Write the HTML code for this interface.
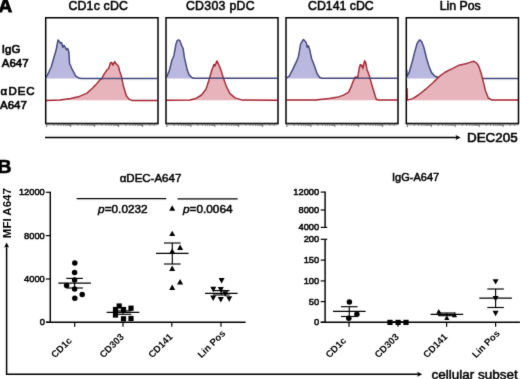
<!DOCTYPE html>
<html><head><meta charset="utf-8"><style>
html,body{margin:0;padding:0;background:#fff;}
body{width:520px;height:379px;overflow:hidden;position:relative;font-family:"Liberation Sans", sans-serif;}
</style></head><body>
<svg width="520" height="379" viewBox="0 0 520 379" style="position:absolute;left:0;top:0">
<defs><filter id="bl" filterUnits="userSpaceOnUse" x="-2" y="-2" width="524" height="383"><feConvolveMatrix order="3" kernelMatrix="0.01 0.08 0.01 0.08 0.64 0.08 0.01 0.08 0.01" divisor="1" preserveAlpha="false"/></filter></defs>
<rect x="0" y="0" width="520" height="379" fill="#fff"/>
<g filter="url(#bl)">
<g font-family='"Liberation Sans", sans-serif' fill="#000">
<text x="-1.5" y="12.4" font-size="19" font-weight="bold" text-anchor="start" stroke="#000" stroke-width="0.8" >A</text>
<text x="-2.2" y="173.2" font-size="19" font-weight="bold" text-anchor="start" stroke="#000" stroke-width="0.6" >B</text>
<text x="98.3" y="9.5" font-size="12.3" font-weight="normal" text-anchor="middle" stroke="#000" stroke-width="0.55" letter-spacing="0.2">CD1c cDC</text>
<text x="220.4" y="9.5" font-size="12.3" font-weight="normal" text-anchor="middle" stroke="#000" stroke-width="0.55" letter-spacing="0.3">CD303 pDC</text>
<text x="340.9" y="9.5" font-size="12.3" font-weight="normal" text-anchor="middle" stroke="#000" stroke-width="0.55" >CD141 cDC</text>
<text x="460.2" y="9.5" font-size="12.3" font-weight="normal" text-anchor="middle" stroke="#000" stroke-width="0.55" >Lin Pos</text>
<text x="1.8" y="52.7" font-size="11.5" font-weight="normal" text-anchor="start" stroke="#000" stroke-width="0.65" >IgG</text>
<text x="1.8" y="67.3" font-size="11.5" font-weight="normal" text-anchor="start" stroke="#000" stroke-width="0.65" >A647</text>
<text x="0.4" y="94.6" font-size="11.5" font-weight="normal" text-anchor="start" stroke="#000" stroke-width="0.65" >&#945;<tspan x="8.6" letter-spacing="0.9">DEC</tspan></text>
<text x="0.0" y="108.5" font-size="11.5" font-weight="normal" text-anchor="start" stroke="#000" stroke-width="0.65" >A647</text>
</g>
<polygon points="46.0,100.3 46.0,100.4 60.1,100.1 70.9,98.5 79.5,96.4 87.1,93.1 92.4,88.3 95.8,84.9 100.0,79.7 101.6,79.0 103.8,74.7 106.7,70.3 108.9,68.2 110.3,63.1 111.5,62.3 112.9,65.2 114.7,61.6 116.1,63.8 118.3,66.0 119.8,71.8 121.2,75.4 123.4,86.3 126.3,95.7 129.2,99.4 132.1,100.4 157.5,100.4 157.5,100.3" fill="#e7b4bb" stroke="none"/>
<polyline points="46.0,100.4 60.1,100.1 70.9,98.5 79.5,96.4 87.1,93.1 92.4,88.3 95.8,84.9 100.0,79.7 101.6,79.0 103.8,74.7 106.7,70.3 108.9,68.2 110.3,63.1 111.5,62.3 112.9,65.2 114.7,61.6 116.1,63.8 118.3,66.0 119.8,71.8 121.2,75.4 123.4,86.3 126.3,95.7 129.2,99.4 132.1,100.4 157.5,100.4" fill="none" stroke="#a2232f" stroke-width="1.5" stroke-linejoin="round"/>
<polygon points="46.0,78.6 46.0,77.5 47.6,74.7 51.3,66.8 53.7,58.3 56.2,49.8 58.0,40.1 59.2,41.3 60.4,43.1 61.6,42.7 62.8,47.4 64.0,45.5 65.3,47.4 66.5,49.8 67.7,48.6 68.9,52.2 69.5,63.2 72.0,69.2 75.6,75.9 79.2,78.3 82.0,78.6 157.5,78.6 157.5,78.6" fill="#bab8de" stroke="none"/>
<polyline points="46.0,77.5 47.6,74.7 51.3,66.8 53.7,58.3 56.2,49.8 58.0,40.1 59.2,41.3 60.4,43.1 61.6,42.7 62.8,47.4 64.0,45.5 65.3,47.4 66.5,49.8 67.7,48.6 68.9,52.2 69.5,63.2 72.0,69.2 75.6,75.9 79.2,78.3 82.0,78.6 157.5,78.6" fill="none" stroke="#40447a" stroke-width="1.5" stroke-linejoin="round"/>
<polygon points="166.5,100.3 166.5,100.3 190.0,100.1 195.8,98.6 201.6,95.0 206.0,89.2 208.9,80.5 211.8,70.3 214.0,64.5 215.0,66.0 216.9,60.9 218.3,63.8 220.5,68.9 223.4,78.3 226.3,86.3 229.9,93.6 235.0,97.9 242.3,100.1 277.5,100.3 277.5,100.3" fill="#e7b4bb" stroke="none"/>
<polyline points="166.5,100.3 190.0,100.1 195.8,98.6 201.6,95.0 206.0,89.2 208.9,80.5 211.8,70.3 214.0,64.5 215.0,66.0 216.9,60.9 218.3,63.8 220.5,68.9 223.4,78.3 226.3,86.3 229.9,93.6 235.0,97.9 242.3,100.1 277.5,100.3" fill="none" stroke="#a2232f" stroke-width="1.5" stroke-linejoin="round"/>
<polygon points="166.5,78.6 166.5,77.5 169.3,70.9 171.9,60.3 173.9,55.7 175.9,44.5 177.2,40.6 178.5,39.9 179.8,40.6 180.5,42.5 181.8,45.8 183.1,48.5 184.4,57.7 185.8,63.6 187.1,69.6 189.1,74.9 191.7,77.5 194.0,78.3 277.5,78.3 277.5,78.6" fill="#bab8de" stroke="none"/>
<polyline points="166.5,77.5 169.3,70.9 171.9,60.3 173.9,55.7 175.9,44.5 177.2,40.6 178.5,39.9 179.8,40.6 180.5,42.5 181.8,45.8 183.1,48.5 184.4,57.7 185.8,63.6 187.1,69.6 189.1,74.9 191.7,77.5 194.0,78.3 277.5,78.3" fill="none" stroke="#40447a" stroke-width="1.5" stroke-linejoin="round"/>
<polygon points="286.5,100.3 286.5,100.0 316.0,100.0 320.0,99.4 329.2,98.5 338.5,96.9 343.1,95.4 348.5,92.3 350.8,87.7 353.1,81.5 355.4,76.9 357.7,77.7 359.2,68.5 360.3,64.6 361.8,65.4 362.8,68.5 364.6,60.8 365.8,63.1 366.9,69.2 369.2,75.4 371.5,83.8 373.8,91.5 376.2,99.2 378.5,100.0 397.5,100.0 397.5,100.3" fill="#e7b4bb" stroke="none"/>
<polyline points="286.5,100.0 316.0,100.0 320.0,99.4 329.2,98.5 338.5,96.9 343.1,95.4 348.5,92.3 350.8,87.7 353.1,81.5 355.4,76.9 357.7,77.7 359.2,68.5 360.3,64.6 361.8,65.4 362.8,68.5 364.6,60.8 365.8,63.1 366.9,69.2 369.2,75.4 371.5,83.8 373.8,91.5 376.2,99.2 378.5,100.0 397.5,100.0" fill="none" stroke="#a2232f" stroke-width="1.5" stroke-linejoin="round"/>
<polygon points="286.5,78.6 286.5,78.2 289.3,76.2 293.2,68.3 296.5,61.7 298.5,56.4 300.5,44.5 301.8,41.9 303.5,39.5 305.1,41.2 306.4,43.2 307.1,47.2 308.4,45.8 309.7,49.8 311.7,59.0 314.3,65.6 317.0,73.5 319.6,77.5 322.0,78.3 397.5,78.3 397.5,78.6" fill="#bab8de" stroke="none"/>
<polyline points="286.5,78.2 289.3,76.2 293.2,68.3 296.5,61.7 298.5,56.4 300.5,44.5 301.8,41.9 303.5,39.5 305.1,41.2 306.4,43.2 307.1,47.2 308.4,45.8 309.7,49.8 311.7,59.0 314.3,65.6 317.0,73.5 319.6,77.5 322.0,78.3 397.5,78.3" fill="none" stroke="#40447a" stroke-width="1.5" stroke-linejoin="round"/>
<polygon points="406.8,78.6 406.8,70.0 406.8,76.8 409.3,72.2 411.9,63.0 414.6,52.4 417.2,43.2 419.6,39.9 421.8,41.9 423.8,47.2 426.4,57.7 429.1,66.9 431.7,72.9 435.0,76.2 438.3,77.5 441.0,78.6 518.0,78.6 518.0,78.6" fill="#bab8de" stroke="none"/>
<polyline points="406.8,70.0 406.8,76.8 409.3,72.2 411.9,63.0 414.6,52.4 417.2,43.2 419.6,39.9 421.8,41.9 423.8,47.2 426.4,57.7 429.1,66.9 431.7,72.9 435.0,76.2 438.3,77.5 441.0,78.6 518.0,78.6" fill="none" stroke="#40447a" stroke-width="1.5" stroke-linejoin="round"/>
<polygon points="407.0,100.3 407.0,88.0 407.3,100.1 412.7,98.6 418.5,95.0 425.8,89.2 433.0,82.7 438.9,76.9 444.7,72.5 451.9,68.9 459.2,65.2 465.8,63.8 470.2,62.4 473.8,61.3 476.7,63.1 478.9,66.7 481.1,73.3 483.3,81.9 485.4,90.7 488.3,98.0 492.0,100.1 518.0,100.1 518.0,100.3" fill="#e7b4bb" stroke="none"/>
<polyline points="407.0,88.0 407.3,100.1 412.7,98.6 418.5,95.0 425.8,89.2 433.0,82.7 438.9,76.9 444.7,72.5 451.9,68.9 459.2,65.2 465.8,63.8 470.2,62.4 473.8,61.3 476.7,63.1 478.9,66.7 481.1,73.3 483.3,81.9 485.4,90.7 488.3,98.0 492.0,100.1 518.0,100.1" fill="none" stroke="#a2232f" stroke-width="1.5" stroke-linejoin="round"/>
<path d="M45.7,123.55 V17.7 H158.0 V123.55" fill="none" stroke="#000" stroke-width="1.5"/>
<line x1="45.1" y1="123.55" x2="158.6" y2="123.55" stroke="#000" stroke-width="1.7"/>
<line x1="46.7" y1="123.55" x2="46.7" y2="126.95" stroke="#333" stroke-width="0.8"/>
<line x1="53.9" y1="123.55" x2="53.9" y2="125.75" stroke="#333" stroke-width="0.8"/>
<line x1="58.1" y1="123.55" x2="58.1" y2="125.75" stroke="#333" stroke-width="0.8"/>
<line x1="61.1" y1="123.55" x2="61.1" y2="125.75" stroke="#333" stroke-width="0.8"/>
<line x1="63.5" y1="123.55" x2="63.5" y2="125.75" stroke="#333" stroke-width="0.8"/>
<line x1="65.4" y1="123.55" x2="65.4" y2="125.75" stroke="#333" stroke-width="0.8"/>
<line x1="67.0" y1="123.55" x2="67.0" y2="125.75" stroke="#333" stroke-width="0.8"/>
<line x1="68.4" y1="123.55" x2="68.4" y2="125.75" stroke="#333" stroke-width="0.8"/>
<line x1="69.6" y1="123.55" x2="69.6" y2="125.75" stroke="#333" stroke-width="0.8"/>
<line x1="70.7" y1="123.55" x2="70.7" y2="126.95" stroke="#333" stroke-width="0.8"/>
<line x1="77.9" y1="123.55" x2="77.9" y2="125.75" stroke="#333" stroke-width="0.8"/>
<line x1="82.1" y1="123.55" x2="82.1" y2="125.75" stroke="#333" stroke-width="0.8"/>
<line x1="85.1" y1="123.55" x2="85.1" y2="125.75" stroke="#333" stroke-width="0.8"/>
<line x1="87.4" y1="123.55" x2="87.4" y2="125.75" stroke="#333" stroke-width="0.8"/>
<line x1="89.3" y1="123.55" x2="89.3" y2="125.75" stroke="#333" stroke-width="0.8"/>
<line x1="90.9" y1="123.55" x2="90.9" y2="125.75" stroke="#333" stroke-width="0.8"/>
<line x1="92.3" y1="123.55" x2="92.3" y2="125.75" stroke="#333" stroke-width="0.8"/>
<line x1="93.6" y1="123.55" x2="93.6" y2="125.75" stroke="#333" stroke-width="0.8"/>
<line x1="94.7" y1="123.55" x2="94.7" y2="126.95" stroke="#333" stroke-width="0.8"/>
<line x1="101.9" y1="123.55" x2="101.9" y2="125.75" stroke="#333" stroke-width="0.8"/>
<line x1="106.1" y1="123.55" x2="106.1" y2="125.75" stroke="#333" stroke-width="0.8"/>
<line x1="109.1" y1="123.55" x2="109.1" y2="125.75" stroke="#333" stroke-width="0.8"/>
<line x1="111.4" y1="123.55" x2="111.4" y2="125.75" stroke="#333" stroke-width="0.8"/>
<line x1="113.3" y1="123.55" x2="113.3" y2="125.75" stroke="#333" stroke-width="0.8"/>
<line x1="114.9" y1="123.55" x2="114.9" y2="125.75" stroke="#333" stroke-width="0.8"/>
<line x1="116.3" y1="123.55" x2="116.3" y2="125.75" stroke="#333" stroke-width="0.8"/>
<line x1="117.5" y1="123.55" x2="117.5" y2="125.75" stroke="#333" stroke-width="0.8"/>
<line x1="118.6" y1="123.55" x2="118.6" y2="126.95" stroke="#333" stroke-width="0.8"/>
<line x1="125.9" y1="123.55" x2="125.9" y2="125.75" stroke="#333" stroke-width="0.8"/>
<line x1="130.1" y1="123.55" x2="130.1" y2="125.75" stroke="#333" stroke-width="0.8"/>
<line x1="133.1" y1="123.55" x2="133.1" y2="125.75" stroke="#333" stroke-width="0.8"/>
<line x1="135.4" y1="123.55" x2="135.4" y2="125.75" stroke="#333" stroke-width="0.8"/>
<line x1="137.3" y1="123.55" x2="137.3" y2="125.75" stroke="#333" stroke-width="0.8"/>
<line x1="138.9" y1="123.55" x2="138.9" y2="125.75" stroke="#333" stroke-width="0.8"/>
<line x1="140.3" y1="123.55" x2="140.3" y2="125.75" stroke="#333" stroke-width="0.8"/>
<line x1="141.5" y1="123.55" x2="141.5" y2="125.75" stroke="#333" stroke-width="0.8"/>
<line x1="142.6" y1="123.55" x2="142.6" y2="126.95" stroke="#333" stroke-width="0.8"/>
<line x1="149.8" y1="123.55" x2="149.8" y2="125.75" stroke="#333" stroke-width="0.8"/>
<line x1="154.1" y1="123.55" x2="154.1" y2="125.75" stroke="#333" stroke-width="0.8"/>
<line x1="45.7" y1="124.95" x2="158.0" y2="124.95" stroke="#999" stroke-width="0.8"/>
<path d="M166.0,123.55 V17.7 H278.0 V123.55" fill="none" stroke="#000" stroke-width="1.5"/>
<line x1="165.4" y1="123.55" x2="278.6" y2="123.55" stroke="#000" stroke-width="1.7"/>
<line x1="167.0" y1="123.55" x2="167.0" y2="126.95" stroke="#333" stroke-width="0.8"/>
<line x1="174.2" y1="123.55" x2="174.2" y2="125.75" stroke="#333" stroke-width="0.8"/>
<line x1="178.4" y1="123.55" x2="178.4" y2="125.75" stroke="#333" stroke-width="0.8"/>
<line x1="181.4" y1="123.55" x2="181.4" y2="125.75" stroke="#333" stroke-width="0.8"/>
<line x1="183.7" y1="123.55" x2="183.7" y2="125.75" stroke="#333" stroke-width="0.8"/>
<line x1="185.6" y1="123.55" x2="185.6" y2="125.75" stroke="#333" stroke-width="0.8"/>
<line x1="187.2" y1="123.55" x2="187.2" y2="125.75" stroke="#333" stroke-width="0.8"/>
<line x1="188.6" y1="123.55" x2="188.6" y2="125.75" stroke="#333" stroke-width="0.8"/>
<line x1="189.8" y1="123.55" x2="189.8" y2="125.75" stroke="#333" stroke-width="0.8"/>
<line x1="190.9" y1="123.55" x2="190.9" y2="126.95" stroke="#333" stroke-width="0.8"/>
<line x1="198.1" y1="123.55" x2="198.1" y2="125.75" stroke="#333" stroke-width="0.8"/>
<line x1="202.3" y1="123.55" x2="202.3" y2="125.75" stroke="#333" stroke-width="0.8"/>
<line x1="205.3" y1="123.55" x2="205.3" y2="125.75" stroke="#333" stroke-width="0.8"/>
<line x1="207.6" y1="123.55" x2="207.6" y2="125.75" stroke="#333" stroke-width="0.8"/>
<line x1="209.5" y1="123.55" x2="209.5" y2="125.75" stroke="#333" stroke-width="0.8"/>
<line x1="211.1" y1="123.55" x2="211.1" y2="125.75" stroke="#333" stroke-width="0.8"/>
<line x1="212.5" y1="123.55" x2="212.5" y2="125.75" stroke="#333" stroke-width="0.8"/>
<line x1="213.7" y1="123.55" x2="213.7" y2="125.75" stroke="#333" stroke-width="0.8"/>
<line x1="214.8" y1="123.55" x2="214.8" y2="126.95" stroke="#333" stroke-width="0.8"/>
<line x1="222.0" y1="123.55" x2="222.0" y2="125.75" stroke="#333" stroke-width="0.8"/>
<line x1="226.2" y1="123.55" x2="226.2" y2="125.75" stroke="#333" stroke-width="0.8"/>
<line x1="229.2" y1="123.55" x2="229.2" y2="125.75" stroke="#333" stroke-width="0.8"/>
<line x1="231.5" y1="123.55" x2="231.5" y2="125.75" stroke="#333" stroke-width="0.8"/>
<line x1="233.4" y1="123.55" x2="233.4" y2="125.75" stroke="#333" stroke-width="0.8"/>
<line x1="235.0" y1="123.55" x2="235.0" y2="125.75" stroke="#333" stroke-width="0.8"/>
<line x1="236.4" y1="123.55" x2="236.4" y2="125.75" stroke="#333" stroke-width="0.8"/>
<line x1="237.6" y1="123.55" x2="237.6" y2="125.75" stroke="#333" stroke-width="0.8"/>
<line x1="238.7" y1="123.55" x2="238.7" y2="126.95" stroke="#333" stroke-width="0.8"/>
<line x1="245.9" y1="123.55" x2="245.9" y2="125.75" stroke="#333" stroke-width="0.8"/>
<line x1="250.1" y1="123.55" x2="250.1" y2="125.75" stroke="#333" stroke-width="0.8"/>
<line x1="253.1" y1="123.55" x2="253.1" y2="125.75" stroke="#333" stroke-width="0.8"/>
<line x1="255.5" y1="123.55" x2="255.5" y2="125.75" stroke="#333" stroke-width="0.8"/>
<line x1="257.3" y1="123.55" x2="257.3" y2="125.75" stroke="#333" stroke-width="0.8"/>
<line x1="258.9" y1="123.55" x2="258.9" y2="125.75" stroke="#333" stroke-width="0.8"/>
<line x1="260.3" y1="123.55" x2="260.3" y2="125.75" stroke="#333" stroke-width="0.8"/>
<line x1="261.6" y1="123.55" x2="261.6" y2="125.75" stroke="#333" stroke-width="0.8"/>
<line x1="262.7" y1="123.55" x2="262.7" y2="126.95" stroke="#333" stroke-width="0.8"/>
<line x1="269.9" y1="123.55" x2="269.9" y2="125.75" stroke="#333" stroke-width="0.8"/>
<line x1="274.1" y1="123.55" x2="274.1" y2="125.75" stroke="#333" stroke-width="0.8"/>
<line x1="166.0" y1="124.95" x2="278.0" y2="124.95" stroke="#999" stroke-width="0.8"/>
<path d="M286.0,123.55 V17.7 H398.0 V123.55" fill="none" stroke="#000" stroke-width="1.5"/>
<line x1="285.4" y1="123.55" x2="398.6" y2="123.55" stroke="#000" stroke-width="1.7"/>
<line x1="287.0" y1="123.55" x2="287.0" y2="126.95" stroke="#333" stroke-width="0.8"/>
<line x1="294.2" y1="123.55" x2="294.2" y2="125.75" stroke="#333" stroke-width="0.8"/>
<line x1="298.4" y1="123.55" x2="298.4" y2="125.75" stroke="#333" stroke-width="0.8"/>
<line x1="301.4" y1="123.55" x2="301.4" y2="125.75" stroke="#333" stroke-width="0.8"/>
<line x1="303.7" y1="123.55" x2="303.7" y2="125.75" stroke="#333" stroke-width="0.8"/>
<line x1="305.6" y1="123.55" x2="305.6" y2="125.75" stroke="#333" stroke-width="0.8"/>
<line x1="307.2" y1="123.55" x2="307.2" y2="125.75" stroke="#333" stroke-width="0.8"/>
<line x1="308.6" y1="123.55" x2="308.6" y2="125.75" stroke="#333" stroke-width="0.8"/>
<line x1="309.8" y1="123.55" x2="309.8" y2="125.75" stroke="#333" stroke-width="0.8"/>
<line x1="310.9" y1="123.55" x2="310.9" y2="126.95" stroke="#333" stroke-width="0.8"/>
<line x1="318.1" y1="123.55" x2="318.1" y2="125.75" stroke="#333" stroke-width="0.8"/>
<line x1="322.3" y1="123.55" x2="322.3" y2="125.75" stroke="#333" stroke-width="0.8"/>
<line x1="325.3" y1="123.55" x2="325.3" y2="125.75" stroke="#333" stroke-width="0.8"/>
<line x1="327.6" y1="123.55" x2="327.6" y2="125.75" stroke="#333" stroke-width="0.8"/>
<line x1="329.5" y1="123.55" x2="329.5" y2="125.75" stroke="#333" stroke-width="0.8"/>
<line x1="331.1" y1="123.55" x2="331.1" y2="125.75" stroke="#333" stroke-width="0.8"/>
<line x1="332.5" y1="123.55" x2="332.5" y2="125.75" stroke="#333" stroke-width="0.8"/>
<line x1="333.7" y1="123.55" x2="333.7" y2="125.75" stroke="#333" stroke-width="0.8"/>
<line x1="334.8" y1="123.55" x2="334.8" y2="126.95" stroke="#333" stroke-width="0.8"/>
<line x1="342.0" y1="123.55" x2="342.0" y2="125.75" stroke="#333" stroke-width="0.8"/>
<line x1="346.2" y1="123.55" x2="346.2" y2="125.75" stroke="#333" stroke-width="0.8"/>
<line x1="349.2" y1="123.55" x2="349.2" y2="125.75" stroke="#333" stroke-width="0.8"/>
<line x1="351.5" y1="123.55" x2="351.5" y2="125.75" stroke="#333" stroke-width="0.8"/>
<line x1="353.4" y1="123.55" x2="353.4" y2="125.75" stroke="#333" stroke-width="0.8"/>
<line x1="355.0" y1="123.55" x2="355.0" y2="125.75" stroke="#333" stroke-width="0.8"/>
<line x1="356.4" y1="123.55" x2="356.4" y2="125.75" stroke="#333" stroke-width="0.8"/>
<line x1="357.6" y1="123.55" x2="357.6" y2="125.75" stroke="#333" stroke-width="0.8"/>
<line x1="358.7" y1="123.55" x2="358.7" y2="126.95" stroke="#333" stroke-width="0.8"/>
<line x1="365.9" y1="123.55" x2="365.9" y2="125.75" stroke="#333" stroke-width="0.8"/>
<line x1="370.1" y1="123.55" x2="370.1" y2="125.75" stroke="#333" stroke-width="0.8"/>
<line x1="373.1" y1="123.55" x2="373.1" y2="125.75" stroke="#333" stroke-width="0.8"/>
<line x1="375.5" y1="123.55" x2="375.5" y2="125.75" stroke="#333" stroke-width="0.8"/>
<line x1="377.3" y1="123.55" x2="377.3" y2="125.75" stroke="#333" stroke-width="0.8"/>
<line x1="378.9" y1="123.55" x2="378.9" y2="125.75" stroke="#333" stroke-width="0.8"/>
<line x1="380.3" y1="123.55" x2="380.3" y2="125.75" stroke="#333" stroke-width="0.8"/>
<line x1="381.6" y1="123.55" x2="381.6" y2="125.75" stroke="#333" stroke-width="0.8"/>
<line x1="382.7" y1="123.55" x2="382.7" y2="126.95" stroke="#333" stroke-width="0.8"/>
<line x1="389.9" y1="123.55" x2="389.9" y2="125.75" stroke="#333" stroke-width="0.8"/>
<line x1="394.1" y1="123.55" x2="394.1" y2="125.75" stroke="#333" stroke-width="0.8"/>
<line x1="286.0" y1="124.95" x2="398.0" y2="124.95" stroke="#999" stroke-width="0.8"/>
<path d="M406.3,123.55 V17.7 H518.5 V123.55" fill="none" stroke="#000" stroke-width="1.5"/>
<line x1="405.7" y1="123.55" x2="519.1" y2="123.55" stroke="#000" stroke-width="1.7"/>
<line x1="407.3" y1="123.55" x2="407.3" y2="126.95" stroke="#333" stroke-width="0.8"/>
<line x1="414.5" y1="123.55" x2="414.5" y2="125.75" stroke="#333" stroke-width="0.8"/>
<line x1="418.7" y1="123.55" x2="418.7" y2="125.75" stroke="#333" stroke-width="0.8"/>
<line x1="421.7" y1="123.55" x2="421.7" y2="125.75" stroke="#333" stroke-width="0.8"/>
<line x1="424.0" y1="123.55" x2="424.0" y2="125.75" stroke="#333" stroke-width="0.8"/>
<line x1="425.9" y1="123.55" x2="425.9" y2="125.75" stroke="#333" stroke-width="0.8"/>
<line x1="427.5" y1="123.55" x2="427.5" y2="125.75" stroke="#333" stroke-width="0.8"/>
<line x1="428.9" y1="123.55" x2="428.9" y2="125.75" stroke="#333" stroke-width="0.8"/>
<line x1="430.2" y1="123.55" x2="430.2" y2="125.75" stroke="#333" stroke-width="0.8"/>
<line x1="431.3" y1="123.55" x2="431.3" y2="126.95" stroke="#333" stroke-width="0.8"/>
<line x1="438.5" y1="123.55" x2="438.5" y2="125.75" stroke="#333" stroke-width="0.8"/>
<line x1="442.7" y1="123.55" x2="442.7" y2="125.75" stroke="#333" stroke-width="0.8"/>
<line x1="445.7" y1="123.55" x2="445.7" y2="125.75" stroke="#333" stroke-width="0.8"/>
<line x1="448.0" y1="123.55" x2="448.0" y2="125.75" stroke="#333" stroke-width="0.8"/>
<line x1="449.9" y1="123.55" x2="449.9" y2="125.75" stroke="#333" stroke-width="0.8"/>
<line x1="451.5" y1="123.55" x2="451.5" y2="125.75" stroke="#333" stroke-width="0.8"/>
<line x1="452.9" y1="123.55" x2="452.9" y2="125.75" stroke="#333" stroke-width="0.8"/>
<line x1="454.1" y1="123.55" x2="454.1" y2="125.75" stroke="#333" stroke-width="0.8"/>
<line x1="455.2" y1="123.55" x2="455.2" y2="126.95" stroke="#333" stroke-width="0.8"/>
<line x1="462.4" y1="123.55" x2="462.4" y2="125.75" stroke="#333" stroke-width="0.8"/>
<line x1="466.6" y1="123.55" x2="466.6" y2="125.75" stroke="#333" stroke-width="0.8"/>
<line x1="469.6" y1="123.55" x2="469.6" y2="125.75" stroke="#333" stroke-width="0.8"/>
<line x1="472.0" y1="123.55" x2="472.0" y2="125.75" stroke="#333" stroke-width="0.8"/>
<line x1="473.9" y1="123.55" x2="473.9" y2="125.75" stroke="#333" stroke-width="0.8"/>
<line x1="475.5" y1="123.55" x2="475.5" y2="125.75" stroke="#333" stroke-width="0.8"/>
<line x1="476.8" y1="123.55" x2="476.8" y2="125.75" stroke="#333" stroke-width="0.8"/>
<line x1="478.1" y1="123.55" x2="478.1" y2="125.75" stroke="#333" stroke-width="0.8"/>
<line x1="479.2" y1="123.55" x2="479.2" y2="126.95" stroke="#333" stroke-width="0.8"/>
<line x1="486.4" y1="123.55" x2="486.4" y2="125.75" stroke="#333" stroke-width="0.8"/>
<line x1="490.6" y1="123.55" x2="490.6" y2="125.75" stroke="#333" stroke-width="0.8"/>
<line x1="493.6" y1="123.55" x2="493.6" y2="125.75" stroke="#333" stroke-width="0.8"/>
<line x1="495.9" y1="123.55" x2="495.9" y2="125.75" stroke="#333" stroke-width="0.8"/>
<line x1="497.8" y1="123.55" x2="497.8" y2="125.75" stroke="#333" stroke-width="0.8"/>
<line x1="499.4" y1="123.55" x2="499.4" y2="125.75" stroke="#333" stroke-width="0.8"/>
<line x1="500.8" y1="123.55" x2="500.8" y2="125.75" stroke="#333" stroke-width="0.8"/>
<line x1="502.0" y1="123.55" x2="502.0" y2="125.75" stroke="#333" stroke-width="0.8"/>
<line x1="503.1" y1="123.55" x2="503.1" y2="126.95" stroke="#333" stroke-width="0.8"/>
<line x1="510.3" y1="123.55" x2="510.3" y2="125.75" stroke="#333" stroke-width="0.8"/>
<line x1="514.6" y1="123.55" x2="514.6" y2="125.75" stroke="#333" stroke-width="0.8"/>
<line x1="406.3" y1="124.95" x2="518.5" y2="124.95" stroke="#999" stroke-width="0.8"/>
<line x1="45" y1="137.4" x2="457" y2="137.4" stroke="#000" stroke-width="1.5"/>
<polygon points="460.6,137.4 455.6,134.9 456.6,137.4 455.6,139.9" fill="#000"/>
<text x="467.0" y="141.5" font-family='"Liberation Sans", sans-serif' font-size="13.4" stroke="#000" stroke-width="0.6">DEC205</text>
<g font-family='"Liberation Sans", sans-serif' fill="#000">
<text transform="translate(11.2,238.2) rotate(-90)" font-size="11.5" font-weight="bold">MFI A647</text>
<text x="431.4" y="378.8" font-size="13.5" font-weight="normal" text-anchor="start" stroke="#000" stroke-width="0.5" >cellular subset</text>
<text x="150.5" y="181.6" font-size="11.5" font-weight="normal" text-anchor="middle" stroke="#000" stroke-width="0.5" >&#945;DEC-A647</text>
<text x="415.6" y="181.2" font-size="11" font-weight="normal" text-anchor="middle" stroke="#000" stroke-width="0.5" >IgG-A647</text>
<text x="98.1" y="212.7" font-size="11.8" font-weight="normal" text-anchor="start" stroke="#000" stroke-width="0.5" ><tspan font-style="italic">p</tspan>=0.0232</text>
<text x="183.0" y="212.6" font-size="11.8" font-weight="normal" text-anchor="start" stroke="#000" stroke-width="0.5" ><tspan font-style="italic">p</tspan>=0.0064</text>
</g>
<path d="M6.6,246 V374.3 H418" fill="none" stroke="#000" stroke-width="1.5"/>
<polygon points="6.6,242.6 4.1,247.6 6.6,246.6 9.1,247.6" fill="#000"/>
<polygon points="422.2,374.3 417.2,371.8 418.2,374.3 417.2,376.8" fill="#000"/>
<line x1="50.3" y1="191.7" x2="50.3" y2="322.9" stroke="#000" stroke-width="1.45"/>
<line x1="45.9" y1="192.3" x2="50.3" y2="192.3" stroke="#000" stroke-width="1.2"/>
<text x="44.8" y="195.2" font-family='"Liberation Sans", sans-serif' font-size="9.3" text-anchor="end" stroke="#000" stroke-width="0.5">12000</text>
<line x1="45.9" y1="235.6" x2="50.3" y2="235.6" stroke="#000" stroke-width="1.2"/>
<text x="44.8" y="238.5" font-family='"Liberation Sans", sans-serif' font-size="9.3" text-anchor="end" stroke="#000" stroke-width="0.5">8000</text>
<line x1="45.9" y1="279.0" x2="50.3" y2="279.0" stroke="#000" stroke-width="1.2"/>
<text x="44.8" y="281.9" font-family='"Liberation Sans", sans-serif' font-size="9.3" text-anchor="end" stroke="#000" stroke-width="0.5">4000</text>
<line x1="45.9" y1="322.3" x2="50.3" y2="322.3" stroke="#000" stroke-width="1.2"/>
<text x="44.8" y="325.2" font-family='"Liberation Sans", sans-serif' font-size="9.3" text-anchor="end" stroke="#000" stroke-width="0.5">0</text>
<line x1="46" y1="322.3" x2="245.6" y2="322.3" stroke="#000" stroke-width="1.45"/>
<line x1="74.7" y1="322.3" x2="74.7" y2="326.8" stroke="#000" stroke-width="1.2"/>
<line x1="123.0" y1="322.3" x2="123.0" y2="326.8" stroke="#000" stroke-width="1.2"/>
<line x1="171.8" y1="322.3" x2="171.8" y2="326.8" stroke="#000" stroke-width="1.2"/>
<line x1="221.0" y1="322.3" x2="221.0" y2="326.8" stroke="#000" stroke-width="1.2"/>
<line x1="325.1" y1="191.5" x2="325.1" y2="227.4" stroke="#000" stroke-width="1.45"/>
<line x1="320.70000000000005" y1="192.1" x2="325.1" y2="192.1" stroke="#000" stroke-width="1.2"/>
<text x="319.2" y="195.0" font-family='"Liberation Sans", sans-serif' font-size="9.3" text-anchor="end" stroke="#000" stroke-width="0.5">12000</text>
<line x1="320.70000000000005" y1="210.0" x2="325.1" y2="210.0" stroke="#000" stroke-width="1.2"/>
<text x="319.2" y="212.9" font-family='"Liberation Sans", sans-serif' font-size="9.3" text-anchor="end" stroke="#000" stroke-width="0.5">8000</text>
<line x1="320.70000000000005" y1="227.4" x2="325.1" y2="227.4" stroke="#000" stroke-width="1.2"/>
<text x="319.2" y="230.3" font-family='"Liberation Sans", sans-serif' font-size="9.3" text-anchor="end" stroke="#000" stroke-width="0.5">4000</text>
<line x1="325.1" y1="227.4" x2="327.2" y2="227.4" stroke="#000" stroke-width="1.2"/>
<line x1="325.1" y1="239.2" x2="325.1" y2="322.9" stroke="#000" stroke-width="1.45"/>
<line x1="320.70000000000005" y1="239.3" x2="325.1" y2="239.3" stroke="#000" stroke-width="1.2"/>
<text x="319.2" y="242.2" font-family='"Liberation Sans", sans-serif' font-size="9.3" text-anchor="end" stroke="#000" stroke-width="0.5">200</text>
<line x1="320.70000000000005" y1="260.1" x2="325.1" y2="260.1" stroke="#000" stroke-width="1.2"/>
<text x="319.2" y="263.0" font-family='"Liberation Sans", sans-serif' font-size="9.3" text-anchor="end" stroke="#000" stroke-width="0.5">150</text>
<line x1="320.70000000000005" y1="280.9" x2="325.1" y2="280.9" stroke="#000" stroke-width="1.2"/>
<text x="319.2" y="283.8" font-family='"Liberation Sans", sans-serif' font-size="9.3" text-anchor="end" stroke="#000" stroke-width="0.5">100</text>
<line x1="320.70000000000005" y1="301.6" x2="325.1" y2="301.6" stroke="#000" stroke-width="1.2"/>
<text x="319.2" y="304.5" font-family='"Liberation Sans", sans-serif' font-size="9.3" text-anchor="end" stroke="#000" stroke-width="0.5">50</text>
<line x1="320.70000000000005" y1="322.3" x2="325.1" y2="322.3" stroke="#000" stroke-width="1.2"/>
<text x="319.2" y="325.2" font-family='"Liberation Sans", sans-serif' font-size="9.3" text-anchor="end" stroke="#000" stroke-width="0.5">0</text>
<line x1="325.1" y1="239.3" x2="327.2" y2="239.3" stroke="#000" stroke-width="1.2"/>
<line x1="320.7" y1="322.2" x2="520" y2="322.2" stroke="#000" stroke-width="1.45"/>
<line x1="349.0" y1="322.2" x2="349.0" y2="326.8" stroke="#000" stroke-width="1.2"/>
<line x1="398.0" y1="322.2" x2="398.0" y2="326.8" stroke="#000" stroke-width="1.2"/>
<line x1="446.6" y1="322.2" x2="446.6" y2="326.8" stroke="#000" stroke-width="1.2"/>
<line x1="495.6" y1="322.2" x2="495.6" y2="326.8" stroke="#000" stroke-width="1.2"/>
<text transform="translate(55.1,358.6) rotate(-45)" font-family='"Liberation Sans", sans-serif' font-size="9.6" font-weight="bold">CD1c</text>
<text transform="translate(103.4,358.6) rotate(-45)" font-family='"Liberation Sans", sans-serif' font-size="9.6" font-weight="bold">CD303</text>
<text transform="translate(152.20000000000002,358.6) rotate(-45)" font-family='"Liberation Sans", sans-serif' font-size="9.6" font-weight="bold">CD141</text>
<text transform="translate(201.4,358.6) rotate(-45)" font-family='"Liberation Sans", sans-serif' font-size="9.6" font-weight="bold">Lin Pos</text>
<text transform="translate(329.4,358.6) rotate(-45)" font-family='"Liberation Sans", sans-serif' font-size="9.6" font-weight="bold">CD1c</text>
<text transform="translate(378.4,358.6) rotate(-45)" font-family='"Liberation Sans", sans-serif' font-size="9.6" font-weight="bold">CD303</text>
<text transform="translate(427.0,358.6) rotate(-45)" font-family='"Liberation Sans", sans-serif' font-size="9.6" font-weight="bold">CD141</text>
<text transform="translate(476.0,358.6) rotate(-45)" font-family='"Liberation Sans", sans-serif' font-size="9.6" font-weight="bold">Lin Pos</text>
<line x1="76.7" y1="198.7" x2="166.2" y2="198.7" stroke="#000" stroke-width="1.3"/>
<line x1="177.5" y1="198.8" x2="237.7" y2="198.8" stroke="#000" stroke-width="1.3"/>
<circle cx="74.8" cy="262.9" r="2.75" fill="#000"/>
<circle cx="74.6" cy="272.5" r="2.75" fill="#000"/>
<circle cx="74.6" cy="280.1" r="2.75" fill="#000"/>
<circle cx="66.6" cy="285.6" r="2.75" fill="#000"/>
<circle cx="74.6" cy="289.0" r="2.75" fill="#000"/>
<circle cx="82.2" cy="294.6" r="2.75" fill="#000"/>
<circle cx="74.8" cy="298.3" r="2.75" fill="#000"/>
<line x1="58.3" y1="283.2" x2="90.89999999999999" y2="283.2" stroke="#000" stroke-width="1.25"/>
<line x1="66.3" y1="278.4" x2="82.89999999999999" y2="278.4" stroke="#000" stroke-width="1.15"/>
<line x1="66.3" y1="288.0" x2="82.89999999999999" y2="288.0" stroke="#000" stroke-width="1.15"/>
<line x1="74.6" y1="278.4" x2="74.6" y2="288.0" stroke="#000" stroke-width="1.15"/>
<rect x="116.6" y="303.4" width="5.2" height="5.2" fill="#000"/>
<rect x="112.9" y="306.9" width="5.2" height="5.2" fill="#000"/>
<rect x="112.9" y="312.4" width="5.2" height="5.2" fill="#000"/>
<rect x="120.9" y="306.9" width="5.2" height="5.2" fill="#000"/>
<rect x="128.4" y="305.6" width="5.2" height="5.2" fill="#000"/>
<rect x="120.9" y="316.2" width="5.2" height="5.2" fill="#000"/>
<rect x="128.4" y="315.9" width="5.2" height="5.2" fill="#000"/>
<line x1="106.7" y1="312.3" x2="139.3" y2="312.3" stroke="#000" stroke-width="1.25"/>
<line x1="114.7" y1="310.9" x2="131.3" y2="310.9" stroke="#000" stroke-width="1.15"/>
<line x1="114.7" y1="314.3" x2="131.3" y2="314.3" stroke="#000" stroke-width="1.15"/>
<line x1="123.0" y1="310.9" x2="123.0" y2="314.3" stroke="#000" stroke-width="1.15"/>
<polygon points="172.2,205.3 175.2,210.7 169.2,210.7" fill="#000"/>
<polygon points="172.2,230.7 175.2,236.1 169.2,236.1" fill="#000"/>
<polygon points="180.1,244.5 183.1,249.9 177.1,249.9" fill="#000"/>
<polygon points="172.2,248.3 175.2,253.7 169.2,253.7" fill="#000"/>
<polygon points="172.2,265.6 175.2,271.0 169.2,271.0" fill="#000"/>
<polygon points="180.1,279.1 183.1,284.5 177.1,284.5" fill="#000"/>
<polygon points="172.2,284.6 175.2,290.0 169.2,290.0" fill="#000"/>
<line x1="156.0" y1="253.3" x2="188.60000000000002" y2="253.3" stroke="#000" stroke-width="1.25"/>
<line x1="164.0" y1="243.0" x2="180.60000000000002" y2="243.0" stroke="#000" stroke-width="1.15"/>
<line x1="164.0" y1="264.0" x2="180.60000000000002" y2="264.0" stroke="#000" stroke-width="1.15"/>
<line x1="172.3" y1="243.0" x2="172.3" y2="264.0" stroke="#000" stroke-width="1.15"/>
<polygon points="221.6,283.4 224.6,278.0 218.6,278.0" fill="#000"/>
<polygon points="213.3,292.2 216.3,286.8 210.3,286.8" fill="#000"/>
<polygon points="220.8,292.5 223.8,287.1 217.8,287.1" fill="#000"/>
<polygon points="213.2,300.9 216.2,295.5 210.2,295.5" fill="#000"/>
<polygon points="220.8,302.5 223.8,297.1 217.8,297.1" fill="#000"/>
<polygon points="229.2,301.7 232.2,296.3 226.2,296.3" fill="#000"/>
<polygon points="225.2,296.7 228.2,291.3 222.2,291.3" fill="#000"/>
<line x1="205.0" y1="293.4" x2="237.60000000000002" y2="293.4" stroke="#000" stroke-width="1.25"/>
<line x1="213.0" y1="290.6" x2="229.60000000000002" y2="290.6" stroke="#000" stroke-width="1.15"/>
<line x1="213.0" y1="295.0" x2="229.60000000000002" y2="295.0" stroke="#000" stroke-width="1.15"/>
<line x1="221.3" y1="290.6" x2="221.3" y2="295.0" stroke="#000" stroke-width="1.15"/>
<circle cx="349.4" cy="302.1" r="2.75" fill="#000"/>
<circle cx="356.9" cy="314.2" r="2.75" fill="#000"/>
<circle cx="348.8" cy="318.3" r="2.75" fill="#000"/>
<line x1="333.0" y1="311.3" x2="365.6" y2="311.3" stroke="#000" stroke-width="1.25"/>
<line x1="341.0" y1="306.7" x2="357.6" y2="306.7" stroke="#000" stroke-width="1.15"/>
<line x1="341.0" y1="316.5" x2="357.6" y2="316.5" stroke="#000" stroke-width="1.15"/>
<line x1="349.3" y1="306.7" x2="349.3" y2="316.5" stroke="#000" stroke-width="1.15"/>
<rect x="387.4" y="319.8" width="5.2" height="5.2" fill="#000"/>
<rect x="395.5" y="319.8" width="5.2" height="5.2" fill="#000"/>
<rect x="403.4" y="319.8" width="5.2" height="5.2" fill="#000"/>
<line x1="388.0" y1="322.2" x2="408.0" y2="322.2" stroke="#000" stroke-width="1.25"/>
<line x1="393.0" y1="322.2" x2="403.0" y2="322.2" stroke="#000" stroke-width="1.15"/>
<line x1="393.0" y1="322.2" x2="403.0" y2="322.2" stroke="#000" stroke-width="1.15"/>
<line x1="398.0" y1="322.2" x2="398.0" y2="322.2" stroke="#000" stroke-width="1.15"/>
<polygon points="438.8,309.1 441.4,313.7 436.2,313.7" fill="#000"/>
<polygon points="446.8,315.3 449.4,319.9 444.2,319.9" fill="#000"/>
<polygon points="454.5,312.6 457.1,317.2 451.9,317.2" fill="#000"/>
<line x1="430.59999999999997" y1="314.4" x2="463.2" y2="314.4" stroke="#000" stroke-width="1.25"/>
<line x1="438.09999999999997" y1="313.0" x2="455.7" y2="313.0" stroke="#000" stroke-width="1.15"/>
<line x1="438.09999999999997" y1="315.7" x2="455.7" y2="315.7" stroke="#000" stroke-width="1.15"/>
<line x1="446.9" y1="313.0" x2="446.9" y2="315.7" stroke="#000" stroke-width="1.15"/>
<polygon points="495.6,284.6 498.6,279.2 492.6,279.2" fill="#000"/>
<polygon points="495.6,301.5 498.6,296.1 492.6,296.1" fill="#000"/>
<polygon points="495.6,316.2 498.6,310.8 492.6,310.8" fill="#000"/>
<line x1="479.3" y1="298.2" x2="511.90000000000003" y2="298.2" stroke="#000" stroke-width="1.25"/>
<line x1="487.3" y1="289.0" x2="503.90000000000003" y2="289.0" stroke="#000" stroke-width="1.15"/>
<line x1="487.3" y1="307.5" x2="503.90000000000003" y2="307.5" stroke="#000" stroke-width="1.15"/>
<line x1="495.6" y1="289.0" x2="495.6" y2="307.5" stroke="#000" stroke-width="1.15"/>
</g></svg>
</body></html>
